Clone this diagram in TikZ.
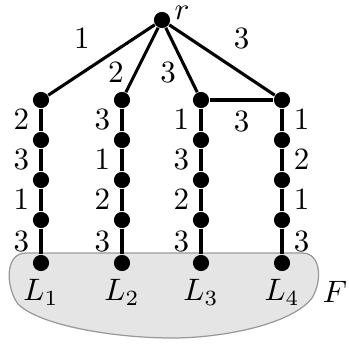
\documentclass[tikz,border=0pt]{standalone}
\usepackage{amsmath}
\usepackage{amssymb}
\usepackage{tikz}
\usetikzlibrary{positioning}

\tikzset{vtx/.style={circle,fill=black,inner sep=0pt,minimum size=5.2pt},
  edge/.style={line width=1pt}}

\begin{document}
\begin{tikzpicture}[x=12.9pt,y=12.9pt]
\useasboundingbox (0,0) rectangle (8.7,-8.725);

% the set F
\draw[gray!80,fill=gray!20] (0.65,-6.325) -- (7.55,-6.325)
  .. controls (8.05,-6.325) and (8.05,-7.05) .. (7.8,-7.45)
  .. controls (7.3,-8.1) and (5.6,-8.45) .. (4.3,-8.45)
  .. controls (2.9,-8.45) and (1.0,-8.15) .. (0.45,-7.6)
  .. controls (0.15,-7.2) and (0.1,-6.325) .. (0.65,-6.325) -- cycle;
\node (F) at (8.375,-7.3) {$F$};

% root
\node[vtx] (r) at (4.05,-0.5) {};
\node[inner sep=0pt] (rlab) at (4.55,-0.32) {$r$};

% first path
\node[vtx] (a1) at (1.025,-2.5) {};
\node[vtx] (a2) at (1.025,-3.5) {};
\node[vtx] (a3) at (1.025,-4.5) {};
\node[vtx] (a4) at (1.025,-5.5) {};
\node[vtx] (a5) at (1.025,-6.575) {};

% second path
\node[vtx] (b1) at (3.05,-2.5) {};
\node[vtx] (b2) at (3.05,-3.5) {};
\node[vtx] (b3) at (3.05,-4.5) {};
\node[vtx] (b4) at (3.05,-5.5) {};
\node[vtx] (b5) at (3.05,-6.575) {};

% third path
\node[vtx] (c1) at (5.025,-2.5) {};
\node[vtx] (c2) at (5.025,-3.5) {};
\node[vtx] (c3) at (5.025,-4.5) {};
\node[vtx] (c4) at (5.025,-5.5) {};
\node[vtx] (c5) at (5.025,-6.575) {};

% fourth path
\node[vtx] (d1) at (7.05,-2.5) {};
\node[vtx] (d2) at (7.05,-3.5) {};
\node[vtx] (d3) at (7.05,-4.5) {};
\node[vtx] (d4) at (7.05,-5.5) {};
\node[vtx] (d5) at (7.05,-6.575) {};

\node (L1) [below=-1pt of a5] {$L_1$};
\node (L2) [below=-1pt of b5] {$L_2$};
\node (L3) [below=-1pt of c5] {$L_3$};
\node (L4) [below=-1pt of d5] {$L_4$};

\draw[edge] (r) -- node[above left] {$1$} (a1);
\draw[edge] (r) -- node[pos=0.7,left] {$2$} (b1);
\draw[edge] (r) -- node[pos=0.7,left] {$3$} (c1);
\draw[edge] (r) -- node[above right] {$3$} (d1);
\draw[edge] (c1) -- node[below] {$3$} (d1);

\draw[edge] (a1) -- node[left] {$2$} (a2) -- node[left] {$3$} (a3)
  -- node[left] {$1$} (a4) -- node[left] {$3$} (a5);
\draw[edge] (b1) -- node[left] {$3$} (b2) -- node[left] {$1$} (b3)
  -- node[left] {$2$} (b4) -- node[left] {$3$} (b5);
\draw[edge] (c1) -- node[left] {$1$} (c2) -- node[left] {$3$} (c3)
  -- node[left] {$2$} (c4) -- node[left] {$3$} (c5);
\draw[edge] (d1) -- node[right] {$1$} (d2) -- node[right] {$2$} (d3)
  -- node[right] {$1$} (d4) -- node[right] {$3$} (d5);
\end{tikzpicture}
\end{document}
